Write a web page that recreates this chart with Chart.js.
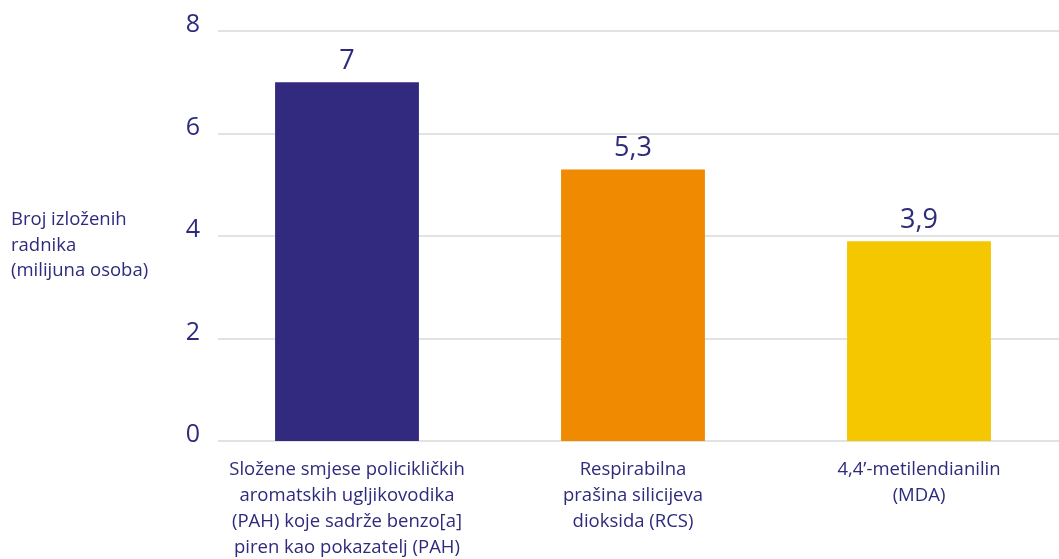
<!DOCTYPE html>
<html>
<head>
<meta charset="utf-8">
<script src="https://cdn.jsdelivr.net/npm/chart.js@4/dist/chart.umd.min.js"></script>
<style>
  html, body { margin: 0; padding: 0; background: #fff; overflow: hidden; }
  #wrap { position: relative; width: 1062px; height: 559px; }
  #ytitle { position: absolute; left: 11px; top: 205px; font-family: "Open Sans", sans-serif; font-size: 18.5px; line-height: 25.5px; color: #2e2a7c; }
</style>
</head>
<body>
<div id="wrap">
  <canvas id="c" width="1062" height="559"></canvas>
  <div id="ytitle">Broj izloženih<br>radnika<br>(milijuna osoba)</div>
</div>
<script>
const categories = [
  ["Složene smjese policikličkih", "aromatskih ugljikovodika", "(PAH) koje sadrže benzo[a]", "piren kao pokazatelj (PAH)"],
  ["Respirabilna", "prašina silicijeva", "dioksida (RCS)"],
  ["4,4’-metilendianilin", "(MDA)"]
];
const values = [7, 5.3, 3.9];
const valueLabels = ["7", "5,3", "3,9"];
const barColors = ["#312a7e", "#f08a00", "#f4c700"];
const yTicks = [0, 2, 4, 6, 8];

const textColor = "#2e2a7c";
const fontFamily = "'Open Sans', sans-serif";

const gridPlugin = {
  id: "customGrid",
  beforeDatasetsDraw(chart) {
    const ctx = chart.ctx, y = chart.scales.y, area = chart.chartArea;
    ctx.save();
    ctx.strokeStyle = "#e2e2e2";
    ctx.lineWidth = 2;
    yTicks.forEach(v => {
      const py = Math.round(y.getPixelForValue(v));
      ctx.beginPath();
      ctx.moveTo(area.left + 14, py);
      ctx.lineTo(area.right, py);
      ctx.stroke();
    });
    ctx.restore();
  }
};

const valueLabelPlugin = {
  id: "valueLabels",
  afterDatasetsDraw(chart) {
    const ctx = chart.ctx;
    const meta = chart.getDatasetMeta(0);
    ctx.save();
    ctx.fillStyle = textColor;
    ctx.font = "27px " + fontFamily;
    ctx.textAlign = "center";
    ctx.textBaseline = "alphabetic";
    meta.data.forEach((bar, i) => {
      ctx.fillText(valueLabels[i], bar.x, bar.y - 13);
    });
    ctx.restore();
  }
};

new Chart(document.getElementById("c"), {
  type: "bar",
  data: {
    labels: categories,
    datasets: [{
      data: values,
      backgroundColor: barColors,
      borderWidth: 0,
      categoryPercentage: 1,
      barPercentage: 0.503
    }]
  },
  options: {
    responsive: false,
    animation: false,
    layout: { padding: { top: 31, right: 0, left: 0, bottom: 0 } },
    plugins: { legend: { display: false }, tooltip: { enabled: false } },
    scales: {
      x: {
        grid: { display: false, drawTicks: false },
        border: { display: false },
        ticks: {
          color: textColor,
          font: { family: fontFamily, size: 18.5, lineHeight: 1.405 },
          padding: 16,
          maxRotation: 0,
          autoSkip: false
        },
        afterFit(scale) { scale.height = 118; }
      },
      y: {
        min: 0, max: 8,
        afterBuildTicks(scale) { scale.ticks = yTicks.map(v => ({ value: v })); },
        grid: { display: false, drawTicks: false },
        border: { display: false },
        ticks: {
          color: textColor,
          font: { family: fontFamily, size: 25 },
          padding: 4,
          labelOffset: -6
        },
        afterFit(scale) { scale.width = 204; }
      }
    }
  },
  plugins: [gridPlugin, valueLabelPlugin]
});
</script>
</body>
</html>
